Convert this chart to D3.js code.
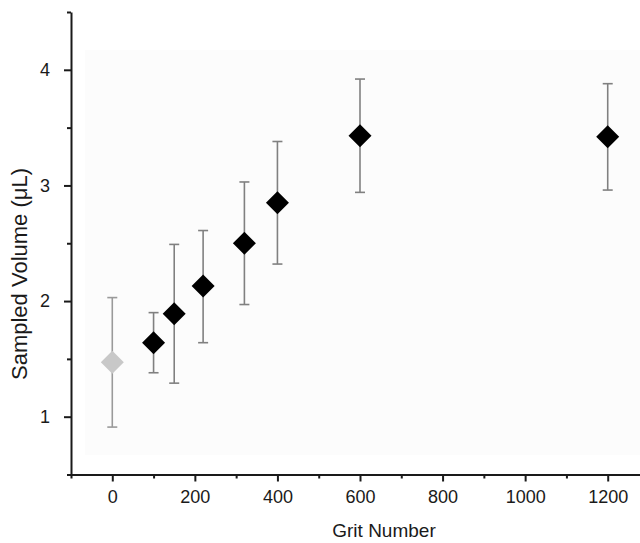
<!DOCTYPE html>
<html>
<head>
<meta charset="utf-8">
<script src="https://cdn.jsdelivr.net/npm/d3@7"></script>
<style>
  html, body { margin: 0; padding: 0; background: #fff; }
  svg { display: block; }
  svg text { font-family: Arial, "Liberation Sans", sans-serif; }
</style>
</head>
<body>
<svg id="chart" width="640" height="543"></svg>
<script>
// Grit number of each sandpaper (0 = unroughened control)
const grit = [0, 100, 150, 220, 320, 400, 600, 1200];
// Mean sampled volume (µL) and error-bar bounds
const meanVolume = [1.47, 1.64, 1.89, 2.13, 2.50, 2.85, 3.43, 3.42];
const upperBound = [2.03, 1.90, 2.49, 2.61, 3.03, 3.38, 3.92, 3.88];
const lowerBound = [0.91, 1.38, 1.29, 1.64, 1.97, 2.32, 2.94, 2.96];
// Whether the point is the control sample (drawn in light grey)
const isControl = [true, false, false, false, false, false, false, false];

const xMajorTicks = [0, 200, 400, 600, 800, 1000, 1200];
const xMinorTicks = [-100, 100, 300, 500, 700, 900, 1100, 1300];
const yMajorTicks = [1, 2, 3, 4];
const yMinorTicks = [0.5, 1.5, 2.5, 3.5, 4.5];

const svg = d3.select("#chart");

const x = d3.scaleLinear().domain([-100, 1300]).range([71, 649]);
const y = d3.scaleLinear().domain([0.5, 4.5]).range([474.5, 12]);

// faint plotting-area backdrop
svg.append("rect")
  .attr("x", 85).attr("y", 50)
  .attr("width", 560).attr("height", 405)
  .attr("fill", "#fcfcfc");

const axisColor = "#1a1a1a";
const fontStack = "Arial, 'Liberation Sans', sans-serif";

// X axis
const gx = svg.append("g").attr("transform", `translate(0,${y(0.5)})`);
gx.call(d3.axisBottom(x).tickValues(xMajorTicks).tickSize(7).tickPadding(9)
  .tickSizeOuter(0).tickFormat(d3.format("d")));
gx.append("g").call(d3.axisBottom(x).tickValues(xMinorTicks).tickSize(4).tickFormat("").tickSizeOuter(0))
  .select(".domain").remove();
gx.selectAll(".domain").attr("stroke", axisColor).attr("stroke-width", 2);
gx.selectAll(".tick line").attr("stroke", axisColor).attr("stroke-width", 2);
gx.selectAll(".tick text").attr("fill", "#1a1a1a")
  .attr("font-size", 18).attr("font-family", fontStack);

// Y axis
const gy = svg.append("g").attr("transform", `translate(${x(-100)},0)`);
gy.call(d3.axisLeft(y).tickValues(yMajorTicks).tickSize(7).tickPadding(14)
  .tickSizeOuter(0).tickFormat(d3.format("d")));
gy.append("g").call(d3.axisLeft(y).tickValues(yMinorTicks).tickSize(4).tickFormat("").tickSizeOuter(0))
  .select(".domain").remove();
gy.selectAll(".domain").attr("stroke", axisColor).attr("stroke-width", 2);
gy.selectAll(".tick line").attr("stroke", axisColor).attr("stroke-width", 2);
gy.selectAll(".tick text").attr("fill", "#1a1a1a")
  .attr("font-size", 18).attr("font-family", fontStack);

// Axis titles
svg.append("text")
  .attr("x", 384).attr("y", 537)
  .attr("text-anchor", "middle")
  .attr("font-size", 19)
  .attr("fill", "#1a1a1a")
  .text("Grit Number");

svg.append("text")
  .attr("transform", "translate(27,274) rotate(-90)")
  .attr("text-anchor", "middle")
  .attr("font-size", 22)
  .attr("fill", "#1a1a1a")
  .text("Sampled Volume (\u03BCL)");

const data = grit.map((g, i) => ({
  g, m: meanVolume[i], hi: upperBound[i], lo: lowerBound[i], control: isControl[i]
}));

// Error bars
const bars = svg.append("g").selectAll("g").data(data).join("g")
  .attr("stroke", d => d.control ? "#9a9a9a" : "#808080")
  .attr("stroke-width", 1.6);
bars.append("line")
  .attr("x1", d => x(d.g)).attr("x2", d => x(d.g))
  .attr("y1", d => y(d.hi)).attr("y2", d => y(d.lo));
bars.append("line")
  .attr("x1", d => x(d.g) - 5).attr("x2", d => x(d.g) + 5)
  .attr("y1", d => y(d.hi)).attr("y2", d => y(d.hi));
bars.append("line")
  .attr("x1", d => x(d.g) - 5).attr("x2", d => x(d.g) + 5)
  .attr("y1", d => y(d.lo)).attr("y2", d => y(d.lo));

// Diamond markers
const diamond = d3.symbol().type(d3.symbolSquare).size(2 * 11.5 * 11.5);
svg.append("g").selectAll("path").data(data).join("path")
  .attr("d", diamond)
  .attr("transform", d => `translate(${x(d.g)},${y(d.m)}) rotate(45)`)
  .attr("fill", d => d.control ? "#c8c8c8" : "#000");
</script>
</body>
</html>
